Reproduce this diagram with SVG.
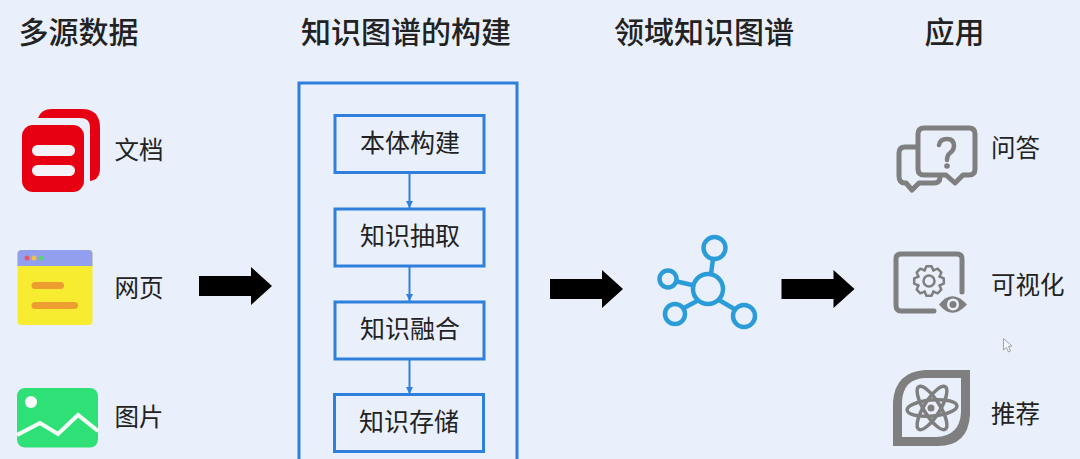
<svg xmlns="http://www.w3.org/2000/svg" width="1080" height="459" viewBox="0 0 1080 459">
<style>
text{font-family:"Noto Sans CJK SC","Noto Sans",sans-serif;fill:#222}
.h{font-size:30px;font-weight:500}
.l{font-size:24.5px}
.b{font-size:25px;text-anchor:middle}
.box{fill:none;stroke:#2f80dc;stroke-width:3}
.link{stroke:#2f80dc;stroke-width:2;fill:none;marker-end:url(#tip)}
.g{fill:none;stroke:#7f7f7f;stroke-linecap:round;stroke-linejoin:round}
.n{fill:none;stroke:#2b9cd8;stroke-width:4.500}
</style>
<defs>
<marker id="tip" markerUnits="userSpaceOnUse" markerWidth="8" markerHeight="8" refX="7" refY="4" orient="auto"><path d="M0,0.5L7,4L0,7.5Z" fill="#2f80dc"/></marker>
<path id="big" d="M0,-10H52V-19L73,0L52,19V10H0Z" fill="#000"/>
<path id="tooth" d="M-4.4,-10.6L-2.6,-14.8H2.6L4.4,-10.6" class="g" stroke-width="2.5"/>
</defs>
<rect width="1080" height="459" fill="#e9f0fb"/>

<g id="headings">
<text class="h" x="18.500" y="43">多源数据</text>
<text class="h" x="301" y="43">知识图谱的构建</text>
<text class="h" x="614" y="43">领域知识图谱</text>
<text class="h" x="924.500" y="43">应用</text>
</g>

<g id="doc">
<path d="M38,118Q41,109 52,109H82Q100,109 100,128V168Q100,180 90,181V127Q90,118 80,118Z" fill="#e60012"/>
<rect x="22" y="125" width="62" height="67" rx="11" fill="#e60012"/>
<rect x="32" y="145" width="43" height="11" rx="5.5" fill="#f4f4f8"/>
<rect x="32" y="165" width="43" height="11" rx="5.5" fill="#f4f4f8"/>
<text class="l" x="114.500" y="159">文档</text>
</g>

<g id="web">
<rect x="17.500" y="250" width="75" height="75" rx="4" fill="#f7ec2f"/>
<path d="M17.500,266V254Q17.500,250 21.500,250H88.500Q92.500,250 92.500,254V266Z" fill="#929fef"/>
<circle cx="27" cy="258" r="2.500" fill="#e8566a"/>
<circle cx="34" cy="258" r="2.500" fill="#f0c040"/>
<circle cx="41" cy="258" r="2.500" fill="#5fd070"/>
<rect x="31.500" y="282" width="32.500" height="7" rx="3.500" fill="#ee9d30"/>
<rect x="31.500" y="302" width="46.500" height="7" rx="3.500" fill="#ee9d30"/>
<text class="l" x="114.500" y="297">网页</text>
</g>

<g id="image">
<rect x="17" y="388" width="81" height="59.500" rx="8" fill="#2fe077"/>
<circle cx="31" cy="402" r="6" fill="#fff"/>
<path d="M17,435L40,423L58,434L78,415L98,431" fill="none" stroke="#f4fff8" stroke-width="4"/>
<text class="l" x="114.500" y="426">图片</text>
</g>

<g id="connectors">
<use href="#big" x="199" y="286"/>
<use href="#big" x="550" y="289"/>
<use href="#big" x="781.500" y="289"/>
<path class="link" d="M409.500,173V208"/>
<path class="link" d="M409.500,266V301"/>
<path class="link" d="M409.500,359V394"/>
</g>

<g id="build">
<path class="box" d="M299,462V83H517V462"/>
<g id="step1"><rect class="box" x="335" y="115.500" width="149" height="57"/><text class="b" x="410" y="152">本体构建</text></g>
<g id="step2"><rect class="box" x="335" y="209" width="149" height="57"/><text class="b" x="410" y="245">知识抽取</text></g>
<g id="step3"><rect class="box" x="335" y="302" width="149" height="57"/><text class="b" x="410" y="338">知识融合</text></g>
<g id="step4"><rect class="box" x="334.500" y="394.500" width="149" height="57"/><text class="b" x="409" y="431">知识存储</text></g>
</g>

<g id="graph">
<path class="n" d="M711,274L713,259M692,285L675,281M697,301L682,309M719,300L736,310"/>
<circle class="n" cx="708" cy="289" r="15"/>
<circle class="n" cx="714.500" cy="248" r="11"/>
<circle class="n" cx="668" cy="279" r="8.500"/>
<circle class="n" cx="675" cy="314" r="10"/>
<circle class="n" cx="744" cy="316" r="11"/>
</g>

<g id="qa">
<path class="g" stroke-width="5" d="M917,147H905Q899,147 899,153V176Q899,183 905,183H906L912,190L919,183H934Q940,183 940,177"/>
<path class="g" stroke-width="5" d="M924,128H969Q975,128 975,134V169Q975,175 969,175H963L955,183L946,175H924Q918,175 918,169V134Q918,128 924,128Z"/>
<path class="g" stroke-width="4.500" d="M939,145Q940,139 947,139Q954,139 954,146Q954,150 950,153Q947,155 947,160"/>
<circle cx="947" cy="166" r="2.800" fill="#7f7f7f"/>
<text class="l" x="991" y="157">问答</text>
</g>

<g id="viz">
<path class="g" stroke-width="5" d="M962,292V259Q962,254 957,254H901Q896,254 896,259V305Q896,311 901,311H934"/>
<g transform="translate(929,281)">
<use href="#tooth"/><use href="#tooth" transform="rotate(45)"/><use href="#tooth" transform="rotate(90)"/><use href="#tooth" transform="rotate(135)"/><use href="#tooth" transform="rotate(180)"/><use href="#tooth" transform="rotate(225)"/><use href="#tooth" transform="rotate(270)"/><use href="#tooth" transform="rotate(315)"/>
<circle r="5.500" class="g" stroke-width="2.500"/>
</g>
<path d="M939,304.500Q952,288 967,304.500Q952,321 939,304.500Z" fill="#7f7f7f"/>
<circle cx="953" cy="304.500" r="6" fill="#e9f0fb"/>
<circle cx="953" cy="304.500" r="3.500" fill="#7f7f7f"/>
<text class="l" x="991" y="294">可视化</text>
</g>

<g id="rec">
<path fill="#7f7f7f" fill-rule="evenodd" d="M925,370H970V415Q968,446 938,446H893V402Q895,372 925,370ZM925,378Q903,379 902,402V437H936Q960,436 961,412V378Z"/>
<g class="g" stroke-width="3.500">
<ellipse cx="932" cy="408" rx="25" ry="8" transform="rotate(-5 932 408)"/>
<ellipse cx="932" cy="408" rx="25" ry="8" transform="rotate(58 932 408)"/>
<ellipse cx="932" cy="408" rx="25" ry="8" transform="rotate(122 932 408)"/>
</g>
<circle cx="931" cy="408" r="3.500" fill="#7f7f7f"/>
<text class="l" x="991" y="423">推荐</text>
</g>

<path id="cursor" d="M1003.500,338.500V350L1006.500,347.500L1008.500,352L1010.500,351L1008.500,346.500L1012,346Z" fill="#f4f6fb" stroke="#8a8f99" stroke-width="0.800"/>
</svg>
